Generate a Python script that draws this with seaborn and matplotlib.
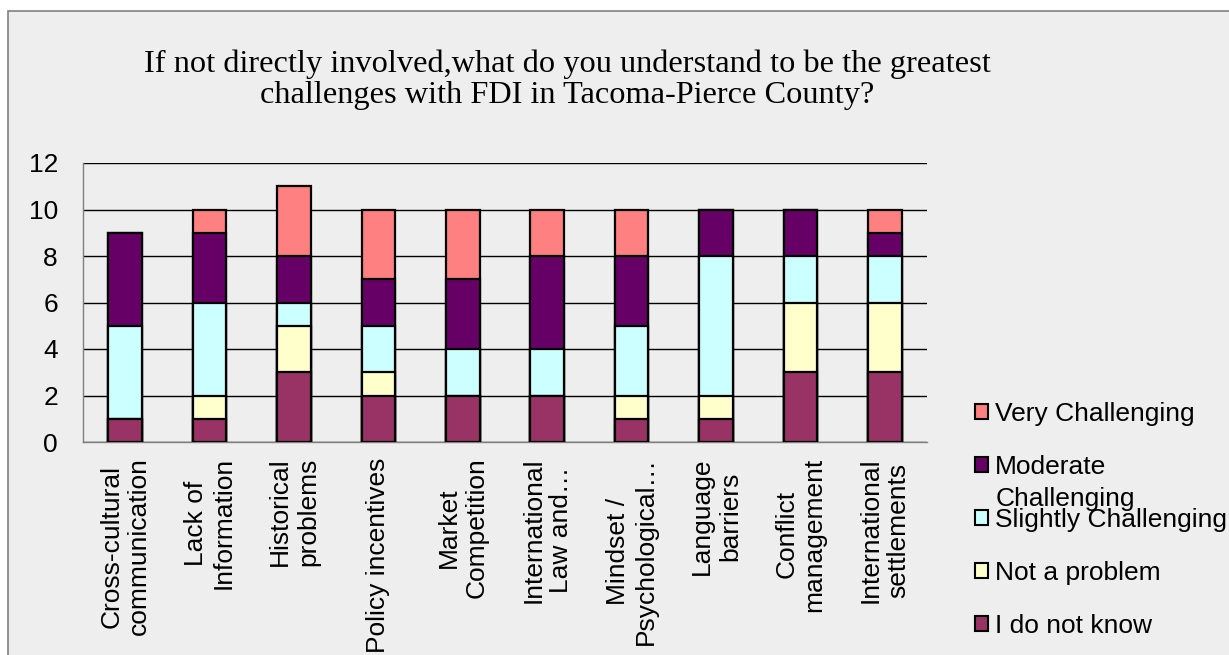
import numpy as np
import pandas as pd
import matplotlib
matplotlib.use('Agg')
import matplotlib.pyplot as plt
import seaborn as sns
from matplotlib.patches import Patch, Rectangle

# survey answers per challenge (counts of respondents)
categories = ['Cross-cultural\ncommunication', 'Lack of\nInformation', 'Historical\nproblems',
              'Policy incentives', 'Market\nCompetition', 'International\nLaw and\u2026',
              'Mindset /\nPsychological\u2026', 'Language\nbarriers', 'Conflict\nmanagement',
              'International\nsettlements']
idk = [1, 1, 3, 2, 2, 2, 1, 1, 3, 3]
not_problem = [0, 1, 2, 1, 0, 0, 1, 1, 3, 3]
slightly = [4, 4, 1, 2, 2, 2, 3, 6, 2, 2]
moderate = [4, 3, 2, 2, 3, 4, 3, 2, 2, 1]
very = [0, 1, 3, 3, 3, 2, 2, 0, 0, 1]

series = ['I do not know', 'Not a problem', 'Slightly Challenging', 'Moderate Challenging', 'Very Challenging']
colors = ['#993366', '#FFFFCC', '#CCFFFF', '#660066', '#FF8080']

df = pd.DataFrame({'category': categories, 'I do not know': idk, 'Not a problem': not_problem,
                   'Slightly Challenging': slightly, 'Moderate Challenging': moderate,
                   'Very Challenging': very})
cum = df[series].cumsum(axis=1)

sns.set_theme(style='white')
plt.rcParams['font.family'] = ['Liberation Sans', 'DejaVu Sans']
plt.rcParams['text.color'] = 'black'
plt.rcParams['xtick.color'] = 'black'
plt.rcParams['ytick.color'] = 'black'

W, H = 1229, 655
fig = plt.figure(figsize=(W / 100, H / 100), dpi=100, facecolor='white')
# grey chart area with thin border (Excel look)
fig.patches.append(Rectangle((8 / W, -0.01), 1.0, (H - 11) / H + 0.01, transform=fig.transFigure,
                             facecolor='#EEEEEE', edgecolor='#808080', lw=1.2, zorder=-10))

ax = fig.add_axes([83 / W, 1 - 442 / H, (927 - 83) / W, (442 - 163) / H])
ax.set_facecolor('#EEEEEE')

# stacked bars: draw cumulative totals from the top layer down
for name, c in reversed(list(zip(series, colors))):
    sns.barplot(x=df['category'], y=cum[name], color=c, saturation=1, width=0.4,
                edgecolor='black', linewidth=1.6, ax=ax, zorder=3)

ax.set_ylim(0, 12)
ax.set_yticks(range(0, 13, 2))
ax.yaxis.grid(True, color='black', lw=1)
ax.set_axisbelow(True)
for s in ['top', 'right']:
    ax.spines[s].set_visible(False)
for s in ['left', 'bottom']:
    ax.spines[s].set_color('#808080')
    ax.spines[s].set_linewidth(1)
ax.set_xlabel('')
ax.set_ylabel('')

ax.set_xticks(range(len(categories)))
ax.set_xticklabels(categories, rotation=90, ha='center', va='top', fontsize=19,
                   multialignment='center')
ax.set_xticks(np.arange(-0.5, len(categories), 1), minor=True)
ax.tick_params(axis='x', which='major', length=0, pad=11)
ax.tick_params(axis='x', which='minor', length=7, width=1, color='#808080', direction='out')
ax.tick_params(axis='y', length=6, width=1, color='#808080', labelcolor='black',
               direction='out', pad=12, labelsize=19)
ax.set_xlim(-0.5, len(categories) - 0.5)

fig.text(567 / W, 1 - 79.5 / H,
         'If not directly involved,what do you understand to be the greatest\n'
         'challenges with FDI in Tacoma-Pierce County?',
         ha='center', va='center', family='Liberation Serif', fontsize=23.3, linespacing=1.08,
         color='black')

handles = [Patch(facecolor=c, edgecolor='black', lw=1.5) for c in colors[::-1]]
labels = ['Very Challenging', 'Moderate', 'Slightly Challenging', 'Not a problem', 'I do not know']
leg = fig.legend(handles, labels, loc='upper left', bbox_to_anchor=(975 / W, 1 - 402 / H),
                 frameon=False, fontsize=19, handlelength=0.5, handleheight=0.5,
                 handletextpad=0.27, labelspacing=1.1, borderpad=0, borderaxespad=0)
for t in leg.get_texts():
    t.set_color('black')

# Excel wraps the second legend label and lets it overlap the next entry
fig.canvas.draw()
bb = leg.get_texts()[1].get_window_extent()
fig.text(bb.x0 / W, ((bb.y0 + bb.y1) / 2 - 32) / H, 'Challenging', va='center', ha='left',
         fontsize=19, color='black')

fig.savefig('out.png', dpi=100, facecolor='white')
